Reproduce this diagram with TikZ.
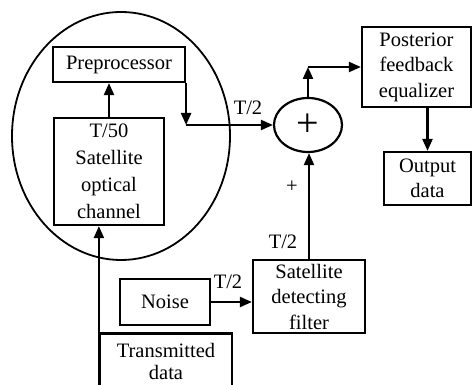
\documentclass[tikz,border=0pt]{standalone}
\usepackage{fontspec}
\setmainfont{Liberation Serif}
\usetikzlibrary{arrows.meta,positioning,shapes.geometric}
\tikzset{
    %Define standard arrow tip
    >={Triangle[length=12pt,width=10pt]},
    %Define style for boxes
    block/.style={
           rectangle,
           draw=black, line width=2.2pt,
           inner sep=0pt,
           align=center,
           font=\fontsize{20.5}{25.5}\selectfont,
           },
    summer/.style={
           ellipse,
           draw=black, line width=2.2pt,
           minimum width=68pt,
           minimum height=54pt,
           inner sep=0pt,
           font=\fontsize{40}{40}\selectfont,
           },
    orbit/.style={
           ellipse,
           draw=black, line width=1.8pt,
           minimum width=218pt,
           minimum height=248pt,
           },
    tag/.style={
           inner sep=1pt,
           font=\fontsize{20.5}{24}\selectfont,
           },
    % Define arrow style
    pil/.style={
           ->,
           line width=2.2pt,},
}
\begin{document}
\begin{tikzpicture}[x=1pt,y=-1pt]
\useasboundingbox (0,0) rectangle (472,385);
\clip (0,0) rectangle (472,385);
\node[orbit](0) at (121,136){};
\node[block, minimum width=132pt, minimum height=56pt, font=\fontsize{20.5}{22.5}\selectfont](1) at (166,361.5){Transmitted\\data};
\node[block, minimum width=110pt, minimum height=107pt, font=\fontsize{20.5}{27}\selectfont](2) at (109,171.5){T/50\\Satellite\\optical\\channel};
\node[block, minimum width=132pt, minimum height=35pt](3) at (119,64.5){Preprocessor};
\node[summer](4) at (308,125){+};
\node[block, minimum width=109pt, minimum height=80pt](5) at (416.5,67){Posterior\\feedback\\equalizer};
\node[block, minimum width=87pt, minimum height=53pt](6) at (427.5,178.5){Output\\data};
\node[block, minimum width=90pt, minimum height=46pt](7) at (165,302){Noise};
\node[block, minimum width=112pt, minimum height=73pt](8) at (309,296.5){Satellite\\detecting\\filter};
% corners of the bent lines
\coordinate (c1) at (3.south east |- 4.west);
\coordinate (c2) at (4.north |- 5.west);
\path[pil]
	(1.south west) edge (1.south west |- 2.south)
	(2.north) edge (2.north |- 3.south)
	(3.south east) edge (c1)
	(c1) edge (4.west)
	(4.north) edge (c2)
	(c2) edge (5.west)
	(5.south -| 6.north) edge (6.north)
	(8.north) edge (8.north |- 4.south)
	(7.east) edge (7.east -| 8.west);
% labels
\node[tag] at (248,108){T/2};
\node[tag] at (292,187){+};
\node[tag] at (283,242){T/2};
\node[tag] at (228,282){T/2};
\end{tikzpicture}
\end{document}
